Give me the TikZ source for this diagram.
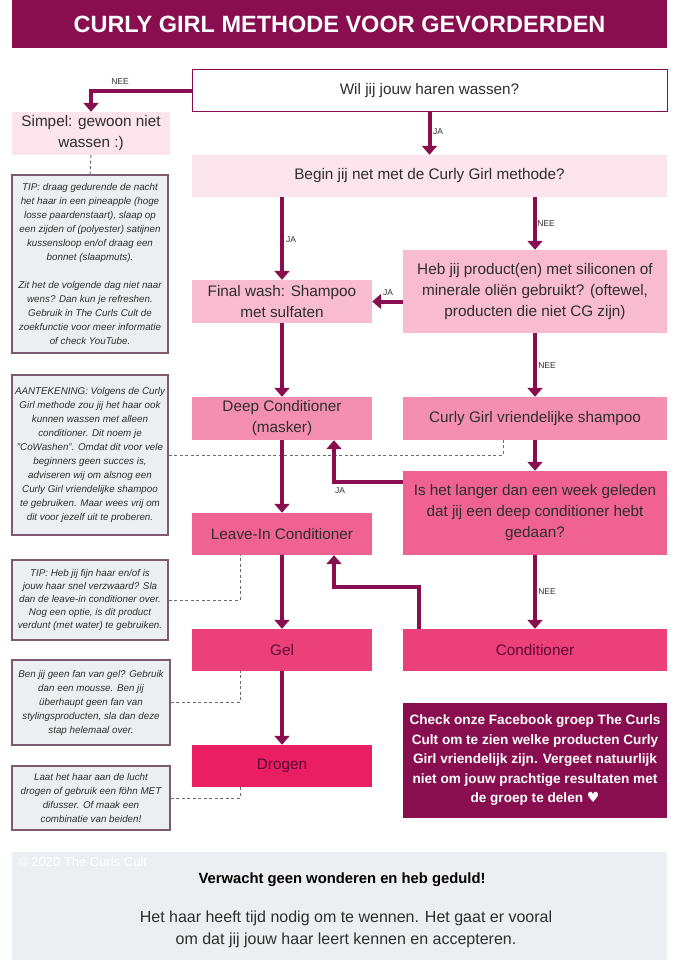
\documentclass[tikz,border=0pt]{standalone}
\usepackage{fontspec}
\setmainfont{Liberation Sans}
\newfontfamily\symfont{DejaVu Sans}
\usetikzlibrary{arrows.meta}
\definecolor{cgdark}{HTML}{880E4F}
\definecolor{pinkA}{HTML}{FCE4EC}
\definecolor{pinkB}{HTML}{F8BBD0}
\definecolor{pinkC}{HTML}{F48FB1}
\definecolor{pinkD}{HTML}{F06292}
\definecolor{pinkE}{HTML}{EC407A}
\definecolor{pinkF}{HTML}{E91E63}
\definecolor{tipfill}{HTML}{ECEFF1}
\definecolor{tipborder}{HTML}{7D5A6E}
\definecolor{txt}{HTML}{2E2E2E}
\definecolor{txtdark}{HTML}{5C0A32}
\definecolor{dashc}{HTML}{6A6A6A}
\begin{document}
\begin{tikzpicture}[x=1pt,y=-1pt,
  box/.style={rectangle, inner sep=0pt, align=center, text=txt,
    font=\fontsize{15.3}{21}\selectfont},
  tipbox/.style={rectangle, inner sep=0pt, align=center, fill=tipfill,
    draw=tipborder, line width=1.1pt, text=txt,
    font=\fontsize{9.8}{14}\selectfont\itshape},
  arr/.style={draw=cgdark, line width=4pt,
    -{Triangle[length=9pt,width=15pt]}},
  dashline/.style={draw=dashc, line width=1pt, dash pattern=on 3pt off 2.5pt},
  lab/.style={font=\fontsize{8.5}{9}\selectfont, text=txt, inner sep=0pt}]
\useasboundingbox (0,0) rectangle (680,960);
% title
\node[rectangle, fill=cgdark, minimum width=655pt, minimum height=48pt,
  text=white, font=\fontsize{23.5}{26}\selectfont\bfseries] (title) at (339.5,24)
  {CURLY GIRL METHODE VOOR GEVORDERDEN};
% main boxes
\node[box, fill=white, draw=cgdark, line width=1pt, minimum width=475pt, minimum height=42pt] (wil) at (429.5,91) {Wil jij jouw haren wassen?};
\node[box, fill=pinkA, minimum width=158pt, minimum height=43pt] (simpel) at (91,133.5) {Simpel: gewoon niet\\wassen :)};
\node[box, fill=pinkA, minimum width=475pt, minimum height=42pt] (begin) at (429.5,176) {Begin jij net met de Curly Girl methode?};
\node[box, fill=pinkB, minimum width=264pt, minimum height=83pt] (heb) at (535,291.5) {Heb jij product(en) met siliconen of\\minerale oliën gebruikt? (oftewel,\\producten die niet CG zijn)};
\node[box, fill=pinkB, minimum width=180pt, minimum height=43pt] (final) at (282,301.5) {Final wash: Shampoo\\met sulfaten};
\node[box, fill=pinkC, minimum width=180pt, minimum height=43pt] (deep) at (282,418.5) {Deep Conditioner\\(masker)};
\node[box, fill=pinkC, minimum width=264pt, minimum height=43pt] (cgs) at (535,418.5) {Curly Girl vriendelijke shampoo};
\node[box, fill=pinkD, minimum width=264pt, minimum height=84pt] (langer) at (535,513) {Is het langer dan een week geleden\\dat jij een deep conditioner hebt\\gedaan?};
\node[box, fill=pinkD, minimum width=180pt, minimum height=42pt] (leave) at (282,534) {Leave-In Conditioner};
\node[box, fill=pinkE, text=txtdark, minimum width=180pt, minimum height=42pt] (gel) at (282,650) {Gel};
\node[box, fill=pinkE, text=txtdark, minimum width=264pt, minimum height=42pt] (cond) at (535,650) {Conditioner};
\node[box, fill=pinkF, text=txtdark, minimum width=180pt, minimum height=42pt] (drogen) at (282,766) {Drogen};
\node[box, fill=cgdark, text=white, minimum width=264pt, minimum height=115pt,
  font=\fontsize{13.6}{19.5}\selectfont\bfseries] (check) at (535,760.5)
  {Check onze Facebook groep The Curls\\Cult om te zien welke producten Curly\\Girl vriendelijk zijn. Vergeet natuurlijk\\niet om jouw prachtige resultaten met\\de groep te delen {\symfont\fontsize{14}{19}\selectfont ♥}};
% tip boxes
\node[tipbox, minimum width=156pt, minimum height=178pt] (tip1) at (90,264)
  {TIP: draag gedurende de nacht\\het haar in een pineapple (hoge\\losse paardenstaart), slaap op\\een zijden of (polyester) satijnen\\kussensloop en/of draag een\\bonnet (slaapmuts).\\[14pt]Zit het de volgende dag niet naar\\wens? Dan kun je refreshen.\\Gebruik in The Curls Cult de\\zoekfunctie voor meer informatie\\of check YouTube.};
\node[tipbox, minimum width=156pt, minimum height=160pt] (aant) at (90,455)
  {AANTEKENING: Volgens de Curly\\Girl methode zou jij het haar ook\\kunnen wassen met alleen\\conditioner. Dit noem je\\"CoWashen". Omdat dit voor vele\\beginners geen succes is,\\adviseren wij om alsnog een\\Curly Girl vriendelijke shampoo\\te gebruiken. Maar wees vrij om\\dit voor jezelf uit te proberen.};
\node[tipbox, minimum width=156pt, minimum height=80pt, font=\fontsize{9.8}{13}\selectfont\itshape] (tip2) at (90,600)
  {TIP: Heb jij fijn haar en/of is\\jouw haar snel verzwaard? Sla\\dan de leave-in conditioner over.\\Nog een optie, is dit product\\verdunt (met water) te gebruiken.};
\node[tipbox, minimum width=158pt, minimum height=85pt] (ben) at (91,702.5)
  {Ben jij geen fan van gel? Gebruik\\dan een mousse. Ben jij\\überhaupt geen fan van\\stylingsproducten, sla dan deze\\stap helemaal over.};
\node[tipbox, minimum width=158pt, minimum height=64pt] (laat) at (91,798)
  {Laat het haar aan de lucht\\drogen of gebruik een föhn MET\\difusser. Of maak een\\combinatie van beiden!};
% bottom box
\node[rectangle, fill=tipfill, minimum width=655pt, minimum height=108pt] (bottom) at (339.5,906) {};
\node[anchor=west, text=white, inner sep=0pt, font=\fontsize{13}{14}\selectfont] (copy) at (18,862) {© 2020 The Curls Cult};
\node[text=black, inner sep=0pt, font=\fontsize{14.8}{16}\selectfont\bfseries] (motto) at (342,880) {Verwacht geen wonderen en heb geduld!};
\node[text=txt, inner sep=0pt, align=center, font=\fontsize{16}{22}\selectfont] (uitleg) at (346,929) {Het haar heeft tijd nodig om te wennen. Het gaat er vooral\\om dat jij jouw haar leert kennen en accepteren.};
% coordinates
\coordinate (ja1) at (334,482);
\coordinate (c1) at (419,587);
\coordinate (c2) at (334,587);
\coordinate (d1) at (503,455);
\coordinate (d2) at (240,600);
\coordinate (d3) at (240,702.5);
\coordinate (d4) at (240,798);
% dashed connectors
\draw[dashline] (simpel.south) -- (tip1.north);
\draw[dashline] (aant.east) -- (d1) -- (cgs.south -| d1);
\draw[dashline] (tip2.east) -- (d2) -- (leave.south -| d2);
\draw[dashline] (ben.east) -- (d3) -- (gel.south -| d3);
\draw[dashline] (laat.east) -- (d4) -- (drogen.south -| d4);
% arrows
\draw[arr] (wil.west) -| (simpel.north);
\draw[arr] (wil.south) -- (begin.north);
\draw[arr] (begin.south -| final.north) -- (final.north);
\draw[arr] (begin.south -| heb.north) -- (heb.north);
\draw[arr] (heb.west |- final.east) -- (final.east);
\draw[arr] (final.south) -- (deep.north);
\draw[arr] (heb.south) -- (cgs.north);
\draw[arr] (cgs.south) -- (langer.north);
\draw[arr] (langer.west |- ja1) -- (ja1) -- (deep.south -| ja1);
\draw[arr] (deep.south) -- (leave.north);
\draw[arr] (langer.south) -- (cond.north);
\draw[arr] (cond.north -| c1) -- (c1) -- (c2) -- (leave.south -| c2);
\draw[arr] (leave.south) -- (gel.north);
\draw[arr] (gel.south) -- (drogen.north);
% labels
\node[lab] (l1) at (120,82) {NEE};
\node[lab] (l2) at (438,132) {JA};
\node[lab] (l3) at (291,240) {JA};
\node[lab] (l4) at (546,224) {NEE};
\node[lab] (l5) at (388,293) {JA};
\node[lab] (l6) at (547,366) {NEE};
\node[lab] (l7) at (340,491) {JA};
\node[lab] (l8) at (547,592) {NEE};
\end{tikzpicture}
\end{document}
